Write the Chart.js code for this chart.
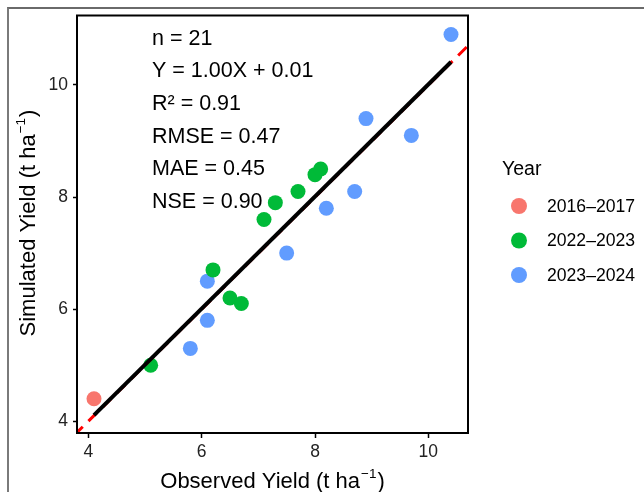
<!DOCTYPE html>
<html>
<head>
<meta charset="utf-8">
<script src="https://cdn.jsdelivr.net/npm/chart.js@4/dist/chart.umd.min.js"></script>
<style>
html, body { margin: 0; padding: 0; background: #fff; }
#wrap { position: relative; width: 644px; height: 492px; overflow: hidden; }
#frame { position: absolute; left: 7px; top: 7px; width: 700px; height: 600px;
         border-top: 2px solid #6a6a6a; border-left: 2px solid #7a7a7a; }
#chart { position: absolute; left: 0; top: 0; }
</style>
</head>
<body>
<div id="wrap">
  <div id="frame"></div>
  <canvas id="chart" width="644" height="492"></canvas>
</div>
<script>
// Year groups
const years = ['2016–2017', '2022–2023', '2023–2024'];
const yearColors = ['#F8766D', '#00BA38', '#619CFF'];

// Observed vs simulated yield (t/ha)
const obs2016 = [4.1];
const sim2016 = [4.4];
const obs2022 = [5.1, 6.2, 6.5, 6.7, 7.1, 7.3, 7.7, 8.0, 8.1];
const sim2022 = [5.0, 6.7, 6.2, 6.1, 7.6, 7.9, 8.1, 8.4, 8.5];
const obs2023 = [5.8, 6.1, 6.1, 7.5, 8.2, 8.7, 8.9, 9.7, 10.4];
const sim2023 = [5.3, 6.5, 5.8, 7.0, 7.8, 8.1, 9.4, 9.1, 10.9];

// Fitted line end points and 1:1 line
const fitX = [4.1, 10.4];
const fitY = [4.11, 10.41];
const oneToOne = [3.5, 11.5];

const xTicks = [4, 6, 8, 10];
const yTicks = [4, 6, 8, 10];

const statsLines = ['n = 21', 'Y = 1.00X + 0.01', 'R² = 0.91', 'RMSE = 0.47', 'MAE = 0.45', 'NSE = 0.90'];

const FONT = "'Liberation Sans', Arial, Helvetica, sans-serif";

function pts(xs, ys) {
    return xs.map((x, i) => ({ x: x, y: ys[i] }));
}

// axis title with a raised "-1" exponent, drawn around its baseline centre
function unitTitle(ctx, label, cx, cy, rot) {
    const main = label + ' (t ha';
    const sup = '−1';
    ctx.save();
    ctx.translate(cx, cy);
    ctx.rotate(rot);
    ctx.fillStyle = '#000';
    ctx.textAlign = 'left';
    ctx.textBaseline = 'alphabetic';
    ctx.font = '22px ' + FONT;
    const w1 = ctx.measureText(main).width;
    const w3 = ctx.measureText(')').width;
    ctx.font = '13.5px ' + FONT;
    const w2 = ctx.measureText(sup).width;
    let x = -(w1 + w2 + w3 + 2) / 2;
    ctx.font = '22px ' + FONT;
    ctx.fillText(main, x, 0);
    x += w1 + 1;
    ctx.font = '13.5px ' + FONT;
    ctx.fillText(sup, x, -10.5);
    x += w2 + 1;
    ctx.font = '22px ' + FONT;
    ctx.fillText(')', x, 0);
    ctx.restore();
}

// Panel box, stats text, axis titles and legend
const extras = {
    id: 'extras',
    afterDraw(chart) {
        const ctx = chart.ctx;
        const a = chart.chartArea;
        ctx.save();
        ctx.strokeStyle = '#000';
        ctx.lineWidth = 2;
        ctx.strokeRect(a.left, a.top, a.right - a.left, a.bottom - a.top);

        ctx.fillStyle = '#000';
        ctx.font = '21.5px ' + FONT;
        ctx.textBaseline = 'alphabetic';
        ctx.textAlign = 'left';
        statsLines.forEach((t, i) => ctx.fillText(t, 152, 44.8 + i * 32.6));

        unitTitle(ctx, 'Observed Yield', 272.5, 488, 0);
        unitTitle(ctx, 'Simulated Yield', 35, 223, -Math.PI / 2);

        ctx.font = '19.5px ' + FONT;
        ctx.fillText('Year', 502, 175);
        ctx.font = '17.6px ' + FONT;
        ctx.textBaseline = 'middle';
        years.forEach((y, i) => {
            const cy = 206 + i * 34.5;
            ctx.fillStyle = yearColors[i];
            ctx.beginPath();
            ctx.arc(519, cy, 8, 0, Math.PI * 2);
            ctx.fill();
            ctx.fillStyle = '#000';
            ctx.fillText(y, 547, cy + 1);
        });
        ctx.restore();
    }
};

let ctx = document.getElementById('chart').getContext('2d');
let yieldChart = new Chart(ctx, {
    type: 'scatter',
    data: {
        datasets: [
            {
                type: 'line', label: 'fit', data: pts(fitX, fitY),
                borderColor: '#000', borderWidth: 4, pointRadius: 0, order: 0, clip: 0
            },
            {
                type: 'line', label: '1:1', data: pts(oneToOne, oneToOne),
                borderColor: '#FF0000', borderWidth: 3, borderDash: [12, 8], pointRadius: 0, order: 1, clip: 0
            },
            { label: years[0], data: pts(obs2016, sim2016), backgroundColor: yearColors[0], pointRadius: 7.5, borderWidth: 0, order: 2 },
            { label: years[1], data: pts(obs2022, sim2022), backgroundColor: yearColors[1], pointRadius: 7.5, borderWidth: 0, order: 2 },
            { label: years[2], data: pts(obs2023, sim2023), backgroundColor: yearColors[2], pointRadius: 7.5, borderWidth: 0, order: 2 }
        ]
    },
    options: {
        responsive: false,
        animation: false,
        layout: { padding: { top: 13, right: 176, left: 0, bottom: 0 } },
        plugins: { legend: { display: false }, tooltip: { enabled: false } },
        scales: {
            x: {
                type: 'linear', min: 3.80, max: 10.70,
                afterBuildTicks: (s) => { s.ticks = xTicks.map(v => ({ value: v })); },
                afterFit: (s) => { s.height = 59; },
                grid: { drawOnChartArea: false, tickLength: 5, tickColor: '#000', tickWidth: 1.5 },
                border: { display: false },
                ticks: { color: '#222', padding: 4, font: { size: 17.5, family: FONT } }
            },
            y: {
                type: 'linear', min: 3.79, max: 11.24,
                afterBuildTicks: (s) => { s.ticks = yTicks.map(v => ({ value: v })); },
                afterFit: (s) => { s.width = 77; },
                grid: { drawOnChartArea: false, tickLength: 4, tickColor: '#000', tickWidth: 1.5 },
                border: { display: false },
                ticks: { color: '#222', padding: 5, font: { size: 17.5, family: FONT } }
            }
        }
    },
    plugins: [extras]
});
</script>
</body>
</html>
